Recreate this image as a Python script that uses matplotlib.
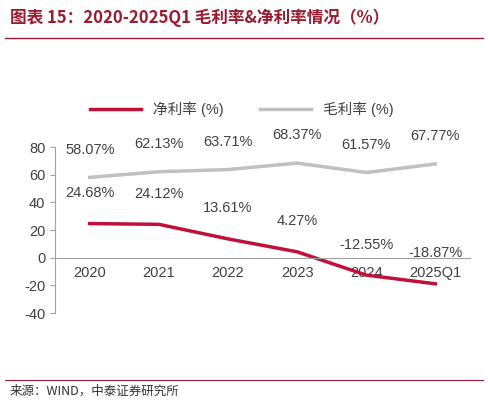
import matplotlib.pyplot as plt

plt.rcParams['font.family'] = ['Liberation Sans', 'Noto Sans CJK SC', 'DejaVu Sans']
plt.rcParams['axes.unicode_minus'] = False

YEARS = ["2020", "2021", "2022", "2023", "2024", "2025Q1"]
NET_MARGIN = [24.68, 24.12, 13.61, 4.27, -12.55, -18.87]
GROSS_MARGIN = [58.07, 62.13, 63.71, 68.37, 61.57, 67.77]

RED = "#C0103A"
GRAY = "#C0C0C0"

fig = plt.figure(figsize=(4.88, 4.05), dpi=100)
fig.text(0.02, 0.955, "图表 15：2020-2025Q1 毛利率&净利率情况（%）", color="#9B1B30",
         fontsize=12, fontweight="bold", style="italic", va="center",
         family=['Noto Sans CJK SC', 'DejaVu Sans'])
fig.add_artist(plt.Line2D([0.01, 0.99], [0.905, 0.905], color="#9B1B30", lw=1))
fig.add_artist(plt.Line2D([0.01, 0.99], [0.062, 0.062], color="#9B1B30", lw=0.8))
fig.text(0.02, 0.035, "来源：WIND，中泰证券研究所", fontsize=9, va="center", color="#333333",
         family=['Noto Sans CJK SC', 'DejaVu Sans'])

ax = fig.add_axes([0.113, 0.227, 0.85, 0.41])
x = list(range(len(YEARS)))
l1, = ax.plot(x, NET_MARGIN, color=RED, lw=2.5, label="净利率 (%)")
l2, = ax.plot(x, GROSS_MARGIN, color=GRAY, lw=2.5, label="毛利率 (%)")
for xi, v in zip(x, NET_MARGIN):
    ax.annotate(f"{v:.2f}%", (xi, v), xytext=(0, 19), textcoords="offset points",
                ha="center", fontsize=10.5, color="#404040")
for xi, v in zip(x, GROSS_MARGIN):
    ax.annotate(f"{v:.2f}%", (xi, v), xytext=(0, 17), textcoords="offset points",
                ha="center", fontsize=10.5, color="#404040")

ax.set_xlim(-0.5, 5.5)
ax.set_ylim(-40, 80)
ax.set_yticks(range(-40, 81, 20))
ax.set_xticks(x)
ax.set_xticklabels(YEARS)
for s in ["top", "right"]:
    ax.spines[s].set_visible(False)
ax.spines["bottom"].set_position(("data", 0))
ax.spines["bottom"].set_color("#A0A0A0")
ax.spines["left"].set_color("#A0A0A0")
ax.tick_params(axis="x", length=0, pad=6, labelsize=10.5, colors="#404040")
ax.tick_params(axis="y", labelsize=10.5, colors="#404040", color="#A0A0A0")
ax.legend(handles=[l1, l2], loc="lower center", bbox_to_anchor=(0.45, 1.1), ncol=2,
          frameon=False, fontsize=10.5, handlelength=3.5, columnspacing=2.5,
          labelcolor="#404040")

fig.savefig("out.png", dpi=100)
